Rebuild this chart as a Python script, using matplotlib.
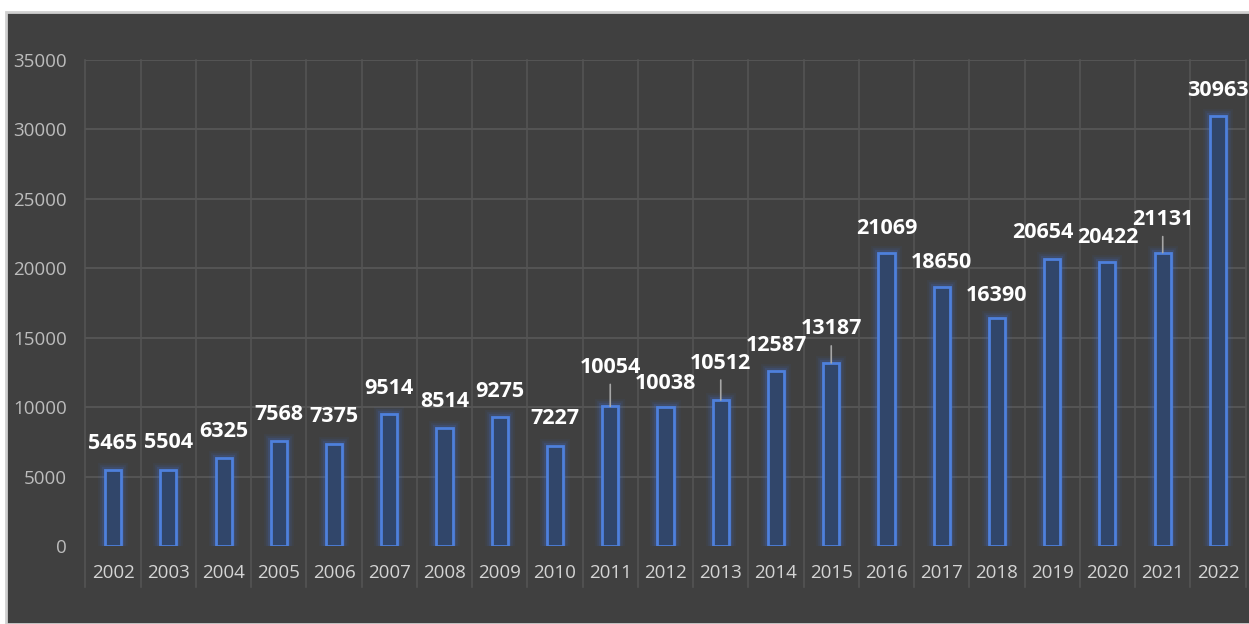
import matplotlib
matplotlib.use("Agg")
import matplotlib.pyplot as plt
from matplotlib.patches import Rectangle

years = [str(y) for y in range(2002, 2023)]
values = [5465, 5504, 6325, 7568, 7375, 9514, 8514, 9275, 7227, 10054, 10038,
          10512, 12587, 13187, 21069, 18650, 16390, 20654, 20422, 21131, 30963]

# label placement (pixels above the bar top, horizontal nudge); Excel moved a few
label_dy = [27, 27, 27, 26, 27, 25, 26, 26, 27, 39, 23,
            37, 26, 34, 25, 25, 23, 27, 25, 33, 26]
label_dx = [0] * 21
label_dx[17] = -9
leader = {9, 11, 13, 19}

plt.rcParams["font.family"] = ["Open Sans", "DejaVu Sans"]

fig = plt.figure(figsize=(12.49, 6.24), dpi=100, facecolor="white")
# dark chart area with light border
fig.patches.append(Rectangle((6 / 1249, 0), 1, (624 - 12) / 624, transform=fig.transFigure,
                             facecolor="#404040", edgecolor="#d0d0d0", linewidth=2, zorder=-10))

ax = fig.add_axes([85.4 / 1249, 78 / 624, 1160.2 / 1249, 486 / 624])
ax.set_facecolor("none")

x = list(range(len(years)))
w = 0.29

# glow behind the bars
for lw, a in [(10, 0.05), (7, 0.08), (4.5, 0.13)]:
    ax.bar(x, values, width=w, facecolor="none", edgecolor="#3f7cff", linewidth=lw, alpha=a, zorder=2)
ax.bar(x, values, width=w, facecolor="#31466a", edgecolor="#4e80dc", linewidth=2, zorder=3)

ax.set_xlim(-0.5, len(years) - 0.5)
ax.set_ylim(0, 35000)
ax.set_yticks(range(0, 35001, 5000))
ax.set_xticks(x)
ax.set_xticklabels(years)

for yv in range(5000, 35001, 5000):
    ax.axhline(yv, color="#595959", linewidth=1.2, zorder=1)
for b in range(len(years) + 1):
    ax.plot([b - 0.5, b - 0.5], [-0.085, 1], color="#545454", linewidth=1.2,
            transform=ax.get_xaxis_transform(), clip_on=False, zorder=1)

for s in ax.spines.values():
    s.set_visible(False)
ax.tick_params(axis="x", length=0, pad=13, labelsize=13.5, labelcolor="#d4d4d4")
ax.tick_params(axis="y", length=0, pad=13.5, labelsize=13.5, labelcolor="#bcbcbc")

for i, v in enumerate(values):
    ax.annotate(str(v), (i, v), xytext=(label_dx[i], label_dy[i]), textcoords="offset pixels",
                ha="center", va="center", fontsize=15.5, fontweight="bold", color="white", zorder=5)
    if i in leader:
        ax.annotate("", (i, v), xytext=(0, label_dy[i] - 17), textcoords="offset pixels",
                    arrowprops=dict(arrowstyle="-", color="#a6a6a6", linewidth=1.2,
                                    shrinkA=0, shrinkB=0), zorder=4)

fig.savefig("out.png", dpi=100, facecolor=fig.get_facecolor())
